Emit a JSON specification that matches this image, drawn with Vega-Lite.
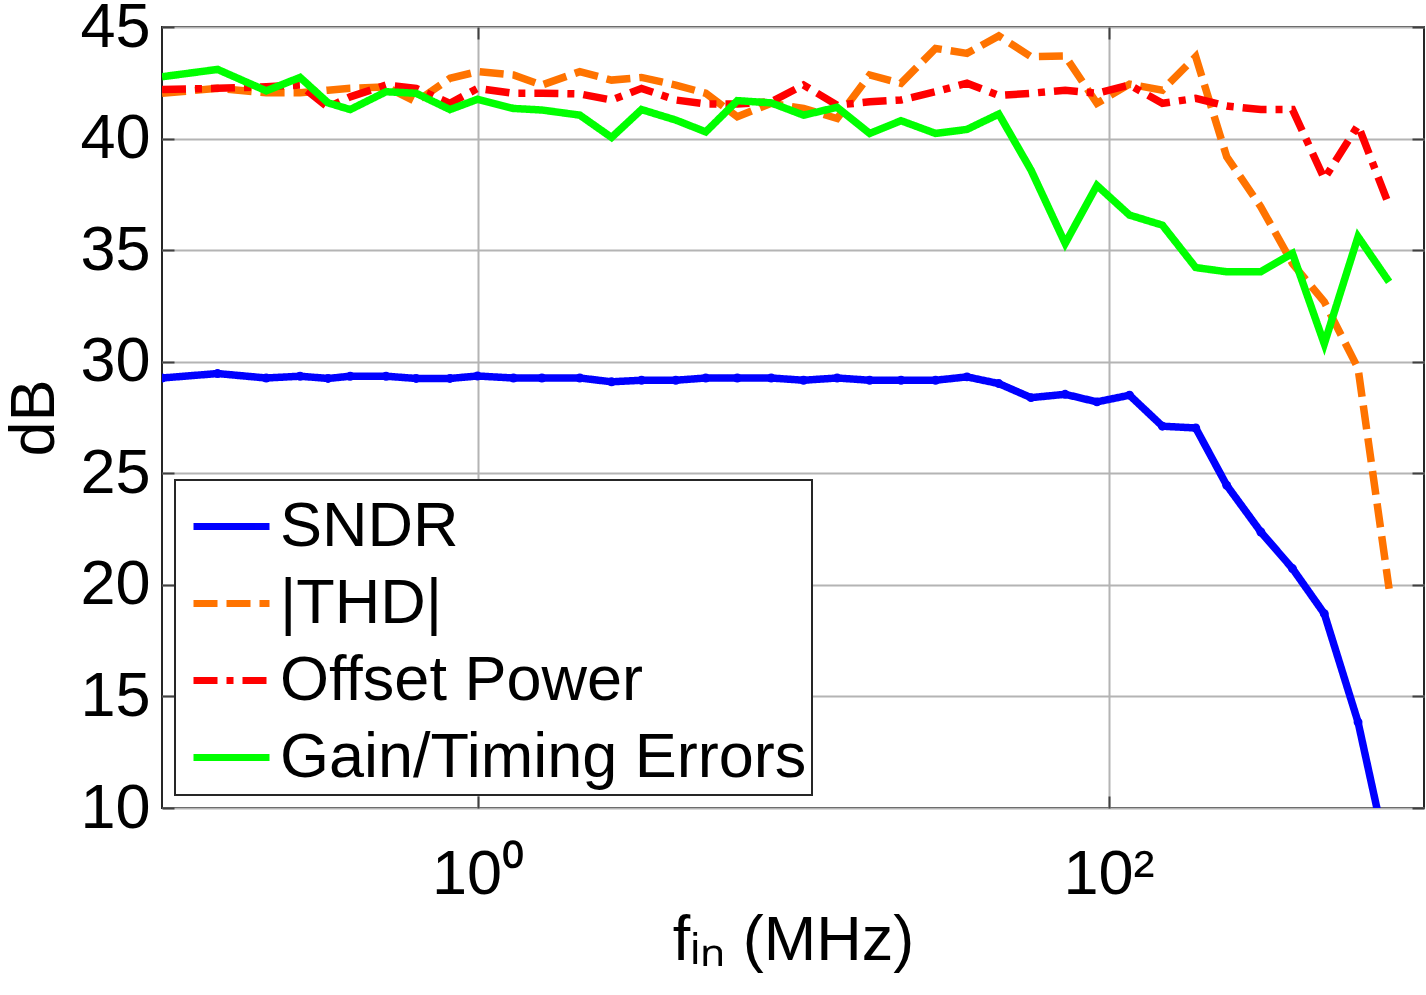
{
  "$schema": "https://vega.github.io/schema/vega-lite/v6.json",
  "width": 1262,
  "height": 781,
  "autosize": "none",
  "padding": {"left": 162, "top": 27, "right": 2, "bottom": 187},
  "background": "white",
  "config": {
    "font": "Liberation Sans",
    "view": {"stroke": "#262626", "strokeWidth": 2},
    "axis": {
      "labelFont": "Liberation Sans",
      "titleFont": "Liberation Sans",
      "labelColor": "black",
      "titleColor": "black",
      "titleFontWeight": "normal",
      "gridColor": "#b4b4b4",
      "gridWidth": 2,
      "gridOpacity": 1,
      "tickColor": "#404040",
      "tickWidth": 2,
      "domain": false,
      "labelFlush": false,
      "labelOverlap": false
    },
    "legend": {
      "labelFont": "Liberation Sans",
      "labelFontSize": 63,
      "labelColor": "black",
      "fillColor": "white",
      "strokeColor": "#262626",
      "strokeWidth": 2,
      "padding": 5,
      "labelOffset": 7,
      "rowPadding": 3,
      "labelLimit": 0,
      "symbolOffset": 10,
      "symbolType": "stroke",
      "symbolStrokeWidth": 7,
      "symbolSize": 5776
    }
  },
  "data": {
    "values": [
      {"f": 0.1, "SNDR": 29.27, "|THD|": 42.03, "Offset Power": 42.2, "Gain/Timing Errors": 42.77},
      {"f": 0.15, "SNDR": 29.47, "|THD|": 42.25, "Offset Power": 42.25, "Gain/Timing Errors": 43.1},
      {"f": 0.214, "SNDR": 29.27, "|THD|": 42.05, "Offset Power": 42.32, "Gain/Timing Errors": 42.14},
      {"f": 0.274, "SNDR": 29.35, "|THD|": 42.05, "Offset Power": 42.4, "Gain/Timing Errors": 42.74},
      {"f": 0.336, "SNDR": 29.25, "|THD|": 42.17, "Offset Power": 41.4, "Gain/Timing Errors": 41.6},
      {"f": 0.395, "SNDR": 29.35, "|THD|": 42.25, "Offset Power": 41.87, "Gain/Timing Errors": 41.3},
      {"f": 0.513, "SNDR": 29.35, "|THD|": 42.32, "Offset Power": 42.4, "Gain/Timing Errors": 42.1},
      {"f": 0.639, "SNDR": 29.25, "|THD|": 41.65, "Offset Power": 42.25, "Gain/Timing Errors": 42.03},
      {"f": 0.818, "SNDR": 29.25, "|THD|": 42.7, "Offset Power": 41.58, "Gain/Timing Errors": 41.3},
      {"f": 1.0, "SNDR": 29.36, "|THD|": 43.0, "Offset Power": 42.25, "Gain/Timing Errors": 41.76},
      {"f": 1.3, "SNDR": 29.27, "|THD|": 42.85, "Offset Power": 42.03, "Gain/Timing Errors": 41.35},
      {"f": 1.6, "SNDR": 29.27, "|THD|": 42.4, "Offset Power": 42.03, "Gain/Timing Errors": 41.28},
      {"f": 2.11, "SNDR": 29.27, "|THD|": 43.0, "Offset Power": 42.0, "Gain/Timing Errors": 41.05},
      {"f": 2.66, "SNDR": 29.1, "|THD|": 42.62, "Offset Power": 41.73, "Gain/Timing Errors": 40.05},
      {"f": 3.31, "SNDR": 29.17, "|THD|": 42.74, "Offset Power": 42.25, "Gain/Timing Errors": 41.3},
      {"f": 4.25, "SNDR": 29.17, "|THD|": 42.4, "Offset Power": 41.73, "Gain/Timing Errors": 40.83},
      {"f": 5.29, "SNDR": 29.27, "|THD|": 42.03, "Offset Power": 41.55, "Gain/Timing Errors": 40.3},
      {"f": 6.66, "SNDR": 29.27, "|THD|": 40.98, "Offset Power": 41.55, "Gain/Timing Errors": 41.7},
      {"f": 8.53, "SNDR": 29.27, "|THD|": 41.58, "Offset Power": 41.65, "Gain/Timing Errors": 41.6},
      {"f": 10.8, "SNDR": 29.17, "|THD|": 41.35, "Offset Power": 42.4, "Gain/Timing Errors": 41.05},
      {"f": 13.8, "SNDR": 29.27, "|THD|": 40.9, "Offset Power": 41.5, "Gain/Timing Errors": 41.4},
      {"f": 17.5, "SNDR": 29.17, "|THD|": 42.85, "Offset Power": 41.65, "Gain/Timing Errors": 40.23},
      {"f": 22.0, "SNDR": 29.17, "|THD|": 42.48, "Offset Power": 41.73, "Gain/Timing Errors": 40.8},
      {"f": 28.3, "SNDR": 29.17, "|THD|": 44.04, "Offset Power": 42.1, "Gain/Timing Errors": 40.23},
      {"f": 35.6, "SNDR": 29.32, "|THD|": 43.82, "Offset Power": 42.48, "Gain/Timing Errors": 40.41},
      {"f": 44.9, "SNDR": 29.02, "|THD|": 44.6, "Offset Power": 41.93, "Gain/Timing Errors": 41.1},
      {"f": 56.8, "SNDR": 28.39, "|THD|": 43.67, "Offset Power": 42.03, "Gain/Timing Errors": 38.59},
      {"f": 72.9, "SNDR": 28.54, "|THD|": 43.7, "Offset Power": 42.17, "Gain/Timing Errors": 35.3},
      {"f": 91.9, "SNDR": 28.2, "|THD|": 41.58, "Offset Power": 42.03, "Gain/Timing Errors": 37.9},
      {"f": 116.6, "SNDR": 28.5, "|THD|": 42.44, "Offset Power": 42.4, "Gain/Timing Errors": 36.57},
      {"f": 148.2, "SNDR": 27.11, "|THD|": 42.17, "Offset Power": 41.58, "Gain/Timing Errors": 36.12},
      {"f": 189, "SNDR": 27.03, "|THD|": 43.67, "Offset Power": 41.8, "Gain/Timing Errors": 34.22},
      {"f": 237, "SNDR": 24.46, "|THD|": 39.18, "Offset Power": 41.46, "Gain/Timing Errors": 34.03},
      {"f": 304, "SNDR": 22.37, "|THD|": 36.94, "Offset Power": 41.3, "Gain/Timing Errors": 34.03},
      {"f": 383, "SNDR": 20.73, "|THD|": 34.4, "Offset Power": 41.3, "Gain/Timing Errors": 34.85},
      {"f": 483, "SNDR": 18.71, "|THD|": 32.68, "Offset Power": 38.2, "Gain/Timing Errors": 30.8},
      {"f": 618, "SNDR": 13.85, "|THD|": 29.7, "Offset Power": 40.6, "Gain/Timing Errors": 35.6},
      {"f": 775, "SNDR": 7.5, "|THD|": 19.83, "Offset Power": 37.0, "Gain/Timing Errors": 33.58}
    ]
  },
  "layer": [
    {
      "transform": [
        {"fold": ["SNDR", "|THD|", "Offset Power", "Gain/Timing Errors"], "as": ["series", "dB"]}
      ],
      "mark": {"type": "line", "strokeWidth": 7.5, "clip": true, "strokeCap": "butt", "strokeJoin": "miter"},
      "encoding": {
        "x": {
          "field": "f",
          "type": "quantitative",
          "scale": {"type": "log", "domain": [0.1, 1000], "nice": false},
          "axis": {
            "values": [1, 100],
            "labelExpr": "datum.value == 1 ? '10\u2070' : '10\u00b2'",
            "title": "f\u1d62\u2099 (MHz)",
            "grid": true,
            "tickSize": -12,
            "labelPadding": 47,
            "labelFontSize": 63,
            "titleFontSize": 63,
            "titleBaseline": "alphabetic",
            "titleY": 151
          }
        },
        "y": {
          "field": "dB",
          "type": "quantitative",
          "scale": {"domain": [10, 45], "nice": false, "zero": false},
          "axis": {
            "values": [10, 15, 20, 25, 30, 35, 40, 45],
            "title": "dB",
            "grid": true,
            "tickSize": -12,
            "labelPadding": 24,
            "labelFontSize": 63,
            "titleFontSize": 63,
            "titleBaseline": "alphabetic",
            "titleX": -109
          }
        },
        "color": {
          "field": "series",
          "type": "nominal",
          "scale": {
            "domain": ["SNDR", "|THD|", "Offset Power", "Gain/Timing Errors"],
            "range": ["#0000ff", "#ff7300", "#ff0000", "#00ff00"]
          },
          "legend": {"title": null, "orient": "none", "legendX": 13, "legendY": 453}
        },
        "strokeDash": {
          "field": "series",
          "type": "nominal",
          "scale": {
            "domain": ["SNDR", "|THD|", "Offset Power", "Gain/Timing Errors"],
            "range": [[1, 0], [24, 9], [24, 9, 7, 9], [1, 0]]
          },
          "legend": {"title": null, "orient": "none", "legendX": 13, "legendY": 453}
        }
      }
    },
    {
      "mark": {"type": "point", "filled": true, "size": 80, "color": "#0000ff", "opacity": 1, "clip": true},
      "encoding": {
        "x": {
          "field": "f",
          "type": "quantitative",
          "axis": {"orient": "top", "values": [1, 100], "labels": false, "grid": false, "tickSize": -12, "title": null}
        },
        "y": {
          "field": "SNDR",
          "type": "quantitative",
          "axis": {"orient": "right", "values": [10, 15, 20, 25, 30, 35, 40, 45], "labels": false, "grid": false, "tickSize": -12, "title": null}
        }
      }
    }
  ],
  "resolve": {"axis": {"x": "independent", "y": "independent"}}
}
